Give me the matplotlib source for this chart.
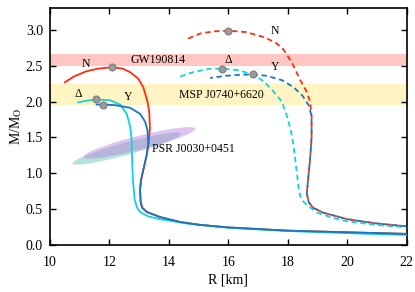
import numpy as np
import matplotlib
matplotlib.use("Agg")
import matplotlib.pyplot as plt

plt.rcParams['font.family'] = ['Liberation Serif', 'DejaVu Serif']
plt.rcParams['mathtext.fontset'] = 'stix'
plt.rcParams['font.size'] = 8.5

# --- data (R in km, M in solar masses) ---
# solid curves
n_solid_r = [10.5, 10.8, 11.2, 11.6, 12.1, 12.45, 12.7, 12.97, 13.14, 13.28, 13.34, 13.36,
             13.31, 13.25, 13.14, 13.06, 13.03, 13.05, 13.1, 13.26, 13.7, 14.38, 15.05, 16, 18, 20, 22]
n_solid_m = [2.27, 2.35, 2.42, 2.46, 2.48, 2.46, 2.41, 2.32, 2.2, 2.0, 1.85, 1.62,
             1.41, 1.25, 1.05, 0.9, 0.77, 0.6, 0.52, 0.46, 0.39, 0.32, 0.28, 0.245, 0.2, 0.177, 0.155]
y_solid_r = [11.57, 11.79, 12.2, 12.69, 13.03, 13.2, 13.28, 13.31, 13.25, 13.14, 13.06, 13.03,
             13.05, 13.1, 13.26, 13.7, 14.38, 15.05, 16, 18, 20, 22]
y_solid_m = [1.96, 1.96, 1.95, 1.915, 1.83, 1.72, 1.6, 1.41, 1.25, 1.05, 0.9, 0.77,
             0.6, 0.52, 0.46, 0.39, 0.32, 0.28, 0.245, 0.2, 0.177, 0.155]
d_solid_r = [10.95, 11.2, 11.55, 12.02, 12.36, 12.58, 12.7, 12.74, 12.76, 12.79, 12.85, 12.93,
             13.03, 13.3, 13.7, 14.6, 16, 18, 20, 22]
d_solid_m = [1.99, 2.01, 2.03, 2.02, 1.96, 1.83, 1.65, 1.5, 1.2, 0.9, 0.63, 0.52,
             0.46, 0.4, 0.36, 0.3, 0.24, 0.195, 0.165, 0.14]

# dashed curves
n_dash_r = [14.65, 15.05, 15.5, 16.0, 16.6, 17.2, 17.6, 17.85, 18.13, 18.42, 18.62, 18.75, 18.8,
            18.8, 18.75, 18.68, 18.64, 18.7, 18.85, 19.2, 20, 21, 22]
n_dash_m = [2.88, 2.95, 2.98, 2.99, 2.97, 2.9, 2.82, 2.73, 2.55, 2.3, 2.15, 2.0, 1.8,
            1.5, 1.2, 0.9, 0.72, 0.6, 0.52, 0.45, 0.36, 0.3, 0.26]
y_dash_r = [15.39, 15.9, 16.4, 16.84, 17.3, 17.8, 18.2, 18.5, 18.7, 18.8,
            18.8, 18.75, 18.68, 18.64, 18.7, 18.85, 19.2, 20, 21, 22]
y_dash_m = [2.33, 2.36, 2.375, 2.38, 2.36, 2.3, 2.2, 2.08, 1.95, 1.8,
            1.5, 1.2, 0.9, 0.72, 0.6, 0.52, 0.45, 0.36, 0.3, 0.26]
d_dash_r = [14.38, 14.8, 15.39, 15.78, 16.3, 16.84, 17.2, 17.5, 17.8, 17.97, 18.1, 18.17, 18.25,
            18.32, 18.38, 18.45, 18.64, 19.0, 19.5, 20, 21, 22]
d_dash_m = [2.35, 2.41, 2.46, 2.46, 2.44, 2.38, 2.28, 2.15, 2.0, 1.8, 1.6, 1.45, 1.2,
            0.95, 0.75, 0.64, 0.556, 0.45, 0.38, 0.33, 0.28, 0.246]

# maximum-mass markers
max_r = [12.1, 11.79, 11.55, 16.0, 16.84, 15.78]
max_m = [2.48, 1.96, 2.03, 2.99, 2.38, 2.46]

# observational constraints
gw_band = [2.50, 2.67]
msp_band = [1.95, 2.24]
# PSR J0030+0451 regions: (left end, right end, half thickness)
nicer_violet = [(11.12, 1.23), (14.88, 1.62), 0.10]
nicer_teal = [(10.76, 1.14), (14.4, 1.55), 0.09]

red = '#ff2d0f'
blue = '#1a74c4'
cyan = '#10d2e0'

fig = plt.figure(figsize=(4.15, 2.92), dpi=100)
ax = fig.add_axes([0.1205, 0.161, 0.8595, 0.81])

ax.axhspan(gw_band[0], gw_band[1], color='#ffc6c2', lw=0, zorder=0)
ax.axhspan(msp_band[0], msp_band[1], color='#fff4c2', lw=0, zorder=0)


def blob(spec, color, alpha):
    (x0, y0), (x1, y1), h = spec
    t = np.linspace(0, 2 * np.pi, 200)
    cx, cy = (x0 + x1) / 2, (y0 + y1) / 2
    ax_, ay_ = (x1 - x0) / 2, (y1 - y0) / 2
    xs = cx + ax_ * np.cos(t)
    ys = cy + ay_ * np.cos(t) + h * np.sin(t)
    ax.fill(xs, ys, color=color, alpha=alpha, lw=0, zorder=1)


blob(nicer_teal, '#6cc8b0', 0.5)
blob(nicer_violet, '#b67ee0', 0.45)

lw = 1.3
ax.plot(n_solid_r, n_solid_m, color=red, lw=lw, zorder=2)
ax.plot(d_solid_r, d_solid_m, color=cyan, lw=lw, zorder=3)
ax.plot(y_solid_r, y_solid_m, color=blue, lw=lw, zorder=4)

dash = (0, (3.0, 2.0))
ax.plot(n_dash_r, n_dash_m, color=red, lw=lw, ls=dash, zorder=2)
ax.plot(d_dash_r, d_dash_m, color=cyan, lw=lw, ls=dash, zorder=3)
ax.plot(y_dash_r, y_dash_m, color=blue, lw=lw, ls=(1.5, (3.0, 2.0)), zorder=4)

ax.plot(max_r, max_m, 'o', ms=5, mfc='#9b9b9b', mec='#7d7d7d', mew=0.8, zorder=5)

ax.text(11.2, 2.53, 'N', ha='center', va='center')
ax.text(10.95, 2.10, 'Δ', ha='center', va='center')
ax.text(12.64, 2.06, 'Y', ha='center', va='center')
ax.text(17.58, 2.98, 'N', ha='center', va='center')
ax.text(16.0, 2.58, 'Δ', ha='center', va='center')
ax.text(17.58, 2.48, 'Y', ha='center', va='center')
ax.text(12.7, 2.585, 'GW190814', ha='left', va='center')
ax.text(14.35, 2.09, 'MSP J0740+6620', ha='left', va='center')
ax.text(13.42, 1.34, 'PSR J0030+0451', ha='left', va='center')

ax.set_xlim(10, 22)
ax.set_ylim(0, 3.3)
ax.set_xticks(np.arange(10, 23, 2))
ax.set_yticks(np.arange(0, 3.01, 0.5))
ax.set_yticklabels([f'{v:.1f}' for v in np.arange(0, 3.01, 0.5)])
ax.tick_params(direction='in', top=True, right=True, length=4, width=1.0, labelsize=10)
ax.tick_params(axis='x', pad=8)
ax.tick_params(axis='y', pad=5)
for s in ax.spines.values():
    s.set_linewidth(1.2)

ax.set_xlabel('R [km]', fontsize=10, labelpad=3)
ax.set_ylabel(r'M/M$_\mathrm{O}$', fontsize=10, labelpad=1)

fig.savefig('out.png', dpi=100)
